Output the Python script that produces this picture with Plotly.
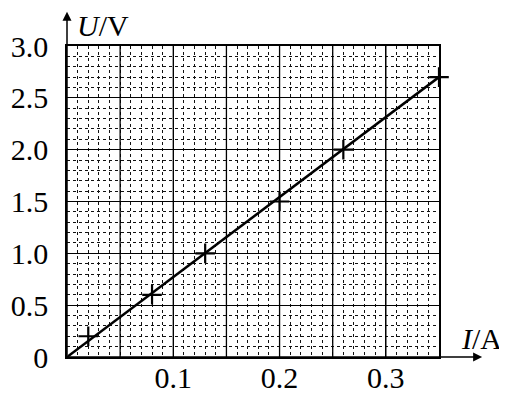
import plotly.graph_objects as go

# Data
I_pts = [0.02, 0.08, 0.13, 0.20, 0.26, 0.35]
U_pts = [0.2, 0.6, 1.0, 1.5, 2.0, 2.7]
fit_I = [0.0, 0.35]
fit_U = [0.0, 2.7]
x_tickvals = [0.1, 0.2, 0.3]
x_ticktext = ["0.1", "0.2", "0.3"]
y_tickvals = [0, 0.5, 1.0, 1.5, 2.0, 2.5, 3.0]
y_ticktext = ["0", "0.5", "1.0", "1.5", "2.0", "2.5", "3.0"]

FONT = "Liberation Serif, Times New Roman, serif"

fig = go.Figure()
fig.add_trace(go.Scatter(x=fit_I, y=fit_U, mode="lines",
                         line=dict(color="black", width=2.5),
                         showlegend=False, hoverinfo="skip", cliponaxis=False))
fig.add_trace(go.Scatter(x=I_pts, y=U_pts, mode="markers",
                         marker=dict(symbol="cross-thin", size=14,
                                     line=dict(color="black", width=2.2)),
                         showlegend=False, cliponaxis=False))

axis_common = dict(showline=True, linecolor="black", linewidth=1.5, mirror=True,
                   showgrid=True, gridcolor="black", gridwidth=1.3, automargin=False,
                   zeroline=False, ticks="", tickfont=dict(family=FONT, size=30, color="black"))

fig.update_xaxes(range=[0, 0.35], tickmode="array",
                 tickvals=x_tickvals, ticktext=x_ticktext,
                 minor=dict(dtick=0.01, tick0=0, showgrid=True, gridcolor="#111111",
                            griddash="dot", gridwidth=1.2),
                 ticklabelstandoff=-7,
                 **axis_common)
fig.update_yaxes(range=[0, 3.0], tickmode="array",
                 tickvals=y_tickvals, ticktext=y_ticktext,
                 minor=dict(dtick=0.1, tick0=0, showgrid=True, gridcolor="#111111",
                            griddash="dot", gridwidth=1.2),
                 ticklabelstandoff=11,
                 **axis_common)

# Major gridlines at every 0.05 A (labels only every 0.1 A)
shapes = []
for k in range(1, 7):
    xv = k * 0.05
    shapes.append(dict(type="line", xref="x", yref="y", x0=xv, x1=xv, y0=0, y1=3.0,
                       line=dict(color="black", width=1.3)))
fig.update_layout(shapes=shapes)

annotations = [
    # y axis arrow
    dict(x=0, y=1.11, xref="x", yref="paper", ax=0, ay=345, axref="pixel", ayref="pixel",
         showarrow=True, arrowhead=2, arrowsize=1.2, arrowwidth=1.5, arrowcolor="black", text=""),
    # x axis arrow
    dict(x=1.116, y=0, xref="paper", yref="y", ax=-415, ay=0,
         showarrow=True, arrowhead=2, arrowsize=1.2, arrowwidth=1.5, arrowcolor="black", text=""),
    dict(x=0.097, y=1.066, xref="paper", yref="paper", text="<i>U</i>/V", showarrow=False,
         font=dict(family=FONT, size=30, color="black"), xanchor="center", yanchor="middle"),
    dict(x=1.113, y=0.061, xref="paper", yref="paper", text="<i>I</i>/A", showarrow=False,
         font=dict(family=FONT, size=30, color="black"), xanchor="center", yanchor="middle"),
]
fig.update_layout(annotations=annotations)

# The page body has an 8px default margin, so the figure is offset by (8, 8)
fig.update_layout(width=499, height=394,
                  margin=dict(l=59, r=68, t=38, b=45, autoexpand=False),
                  paper_bgcolor="white", plot_bgcolor="white",
                  font=dict(family=FONT, color="black"))

fig.write_html("out.html")
